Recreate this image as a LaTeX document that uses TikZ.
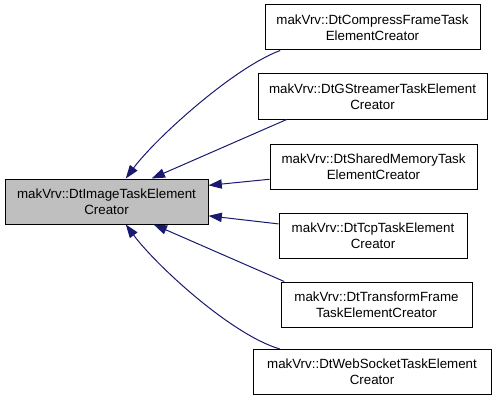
\documentclass[tikz,border=0pt]{standalone}
\usepackage{fontspec}
\setmainfont{Liberation Sans}
\usepackage{xcolor}
\usetikzlibrary{arrows.meta}
\definecolor{edgeblue}{HTML}{191970}
\definecolor{basegray}{HTML}{BFBFBF}

\begin{document}
\begin{tikzpicture}[x=0.75pt,y=-0.75pt,
    box/.style={draw=black,line width=0.75pt,fill=white,align=center,inner sep=0pt,
      minimum height=33.75pt,font=\fontsize{10}{12}\selectfont},
    edge/.style={draw=edgeblue,line width=0.75pt,-{Triangle[length=10pt,width=7pt]}}]
            \useasboundingbox (0,0) rectangle (496,403);
            \node[box,fill=basegray,minimum width=152.25pt] (base) at (106.5,201.5) {makVrv::DtImageTaskElement\\Creator};
            \node[box,minimum width=161.25pt] (compress) at (372.5,27.5) {makVrv::DtCompressFrameTask\\ElementCreator};
            \node[box,minimum width=171.75pt] (gstreamer) at (372.5,96.5) {makVrv::DtGStreamerTaskElement\\Creator};
            \node[box,minimum width=155.25pt] (sharedmem) at (373.5,166.5) {makVrv::DtSharedMemoryTask\\ElementCreator};
            \node[box,minimum width=141pt] (tcp) at (373,235.5) {makVrv::DtTcpTaskElement\\Creator};
            \node[box,minimum width=143.25pt] (transform) at (376.5,304.5) {makVrv::DtTransformFrame\\TaskElementCreator};
            \node[box,minimum width=178.5pt] (websocket) at (372,372) {makVrv::DtWebSocketTaskElement\\Creator};
            \draw[edge] (compress.194) .. controls (233,68) and (155,139) .. (base.50);
            \draw[edge] (gstreamer.195) -- (base.27);
            \draw[edge] (sharedmem.187) -- (base.9);
            \draw[edge] (tcp.173) -- (base.-8);
            \draw[edge] (transform.166) -- (base.-26);
            \draw[edge] (websocket.166) .. controls (230,334) and (155,264) .. (base.-50);
          \end{tikzpicture}
\end{document}
